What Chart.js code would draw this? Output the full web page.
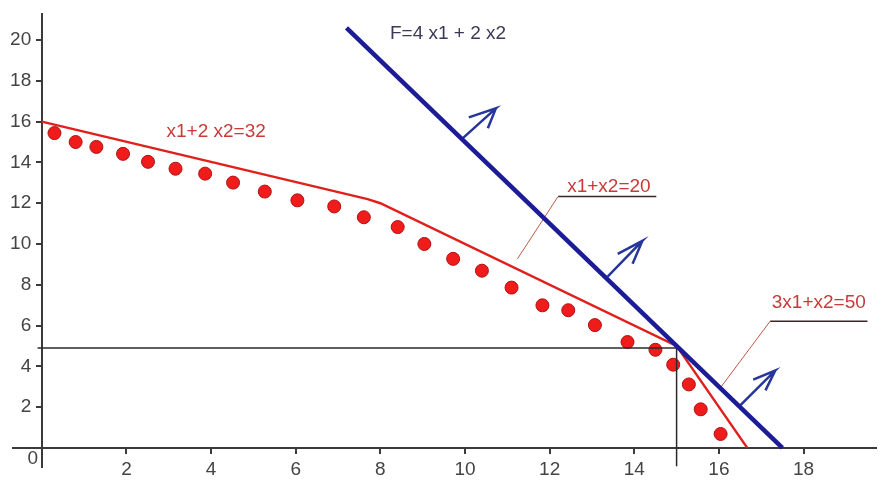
<!DOCTYPE html>
<html lang="en">
<head>
<meta charset="UTF-8">
<title>Graphical LP solution</title>
<script src="https://cdn.jsdelivr.net/npm/chart.js"></script>
<style>
  html, body { margin: 0; padding: 0; background: #fff; }
  .chart-box { position: relative; width: 883px; height: 481px; }
</style>
</head>
<body>
<div class="chart-box"><canvas id="lpChart"></canvas></div>
<script>
// feasible region boundary: x1+2x2=32, x1+x2=20, 3x1+x2=50
const boundX = [0, 7.7, 8, 15, 16.67];
const boundY = [16, 12.2, 12, 5, 0];

// objective line F = 4x1 + 2x2 through the optimum
const objX = [7.2, 17.5];
const objY = [20.6, 0];

// red dots just inside the boundary
const dotX = [0.30, 0.80, 1.29, 1.92, 2.51, 3.16, 3.86, 4.52, 5.27, 6.04, 6.91, 7.61, 8.41,
              9.04, 9.72, 10.40, 11.10, 11.83, 12.44, 13.07, 13.84, 14.50, 14.92, 15.29, 15.57, 16.04];
const dotY = [15.44, 15.00, 14.76, 14.42, 14.03, 13.69, 13.45, 13.01, 12.57, 12.14, 11.84, 11.31, 10.83,
              10.00, 9.27, 8.69, 7.86, 6.99, 6.75, 6.02, 5.19, 4.81, 4.08, 3.11, 1.89, 0.68];

// guide lines to the optimum (15, 5)
const guideHX = [-0.1, 15];
const guideHY = [4.9, 4.9];
const guideVX = [15, 15];
const guideVY = [-0.92, 4.9];

// direction arrows: base, tip, left barb, tip, lower barb
const arrowX = [
  [9.95, 10.73, 10.09, 10.73, 10.54],
  [13.37, 14.19, 13.61, 14.19, 13.96],
  [16.51, 17.33, 16.81, 17.33, 17.10]
];
const arrowY = [
  [15.19, 16.65, 16.21, 16.65, 15.68],
  [8.40, 10.15, 9.51, 10.15, 9.03],
  [2.09, 3.79, 3.35, 3.79, 2.82]
];

// label leaders (slanted part) and underlines
const leaderX = [[11.24, 12.20], [16.04, 17.21]];
const leaderY = [[9.27, 12.33], [2.96, 6.21]];
const underX = [[12.20, 14.52], [17.21, 19.51]];
const underY = [[12.33, 12.33], [6.21, 6.21]];

// text annotations
const labelText = ['x1+2 x2=32', 'F=4 x1 + 2 x2', 'x1+x2=20', '3x1+x2=50', '0'];
const labelX = [4.12, 9.60, 13.40, 18.36, -0.21];
const labelY = [15.49, 20.29, 12.82, 7.14, -0.55];
const labelColor = ['#c83a3a', '#3a3a58', '#c83a3a', '#c83a3a', '#444'];

// axis ticks
const xTicks = [2, 4, 6, 8, 10, 12, 14, 16, 18];
const yTicks = [2, 4, 6, 8, 10, 12, 14, 16, 18, 20];

const pts = (xs, ys) => xs.map((x, i) => ({ x: x, y: ys[i] }));
const fontFamily = '"Liberation Sans", Arial, sans-serif';

const lineSet = (xs, ys, color, width) => ({
  data: pts(xs, ys),
  showLine: true,
  borderColor: color,
  borderWidth: width,
  pointRadius: 0,
  fill: false
});

const datasets = [
  lineSet(objX, objY, '#1c1c96', 4.5)
];
arrowX.forEach((ax, i) => datasets.push(lineSet(ax, arrowY[i], '#26369c', 2.5)));
datasets.push(lineSet(boundX, boundY, '#e0201c', 2.5));
leaderX.forEach((lx, i) => datasets.push(lineSet(lx, leaderY[i], '#b85c48', 1)));
underX.forEach((ux, i) => datasets.push(lineSet(ux, underY[i], '#3a2626', 1.5)));
datasets.push(lineSet(guideHX, guideHY, '#2a2a2a', 1.5));
datasets.push(lineSet(guideVX, guideVY, '#2a2a2a', 1.5));
datasets.push({
  data: pts(dotX, dotY),
  showLine: false,
  pointRadius: 6.5,
  pointBackgroundColor: '#f01c1c',
  pointBorderColor: '#b01010',
  pointBorderWidth: 1
});

// draws the text annotations at data coordinates
const textLabels = {
  id: 'textLabels',
  afterDatasetsDraw(chart) {
    const { ctx, scales: { x, y } } = chart;
    ctx.save();
    ctx.font = '19px ' + fontFamily;
    ctx.textAlign = 'center';
    ctx.textBaseline = 'middle';
    labelText.forEach((t, i) => {
      ctx.fillStyle = labelColor[i];
      ctx.fillText(t, x.getPixelForValue(labelX[i]), y.getPixelForValue(labelY[i]));
    });
    ctx.restore();
  }
};

const axisColor = '#3a3a3a';

new Chart(document.getElementById('lpChart'), {
  type: 'scatter',
  data: { datasets: datasets },
  plugins: [textLabels],
  options: {
    responsive: true,
    maintainAspectRatio: false,
    animation: false,
    layout: { padding: { left: 13, right: 0, top: 13, bottom: 11 } },
    plugins: {
      legend: { display: false },
      tooltip: { enabled: false }
    },
    scales: {
      x: {
        type: 'linear',
        min: -0.68,
        max: 19.7,
        position: { y: 0 },
        afterFit: s => { s.height = 0; },
        afterBuildTicks: s => { s.ticks = xTicks.map(v => ({ value: v })); },
        border: { display: true, color: axisColor, width: 2 },
        grid: { drawOnChartArea: false, drawTicks: true, tickLength: 5, color: axisColor, lineWidth: 2 },
        ticks: { color: '#444', font: { size: 19, family: fontFamily }, padding: 6, maxRotation: 0, autoSkip: false }
      },
      y: {
        type: 'linear',
        min: -0.92,
        max: 21.26,
        position: { x: 0 },
        afterFit: s => { s.width = 0; },
        afterBuildTicks: s => { s.ticks = yTicks.map(v => ({ value: v })); },
        border: { display: true, color: axisColor, width: 2 },
        grid: { drawOnChartArea: false, drawTicks: true, tickLength: 5, color: axisColor, lineWidth: 2 },
        // labels sit right on the axis line here, so pad them with spaces
        ticks: { color: '#444', font: { size: 19, family: fontFamily }, autoSkip: false, callback: v => v + '  ' }
      }
    }
  }
});
</script>
</body>
</html>
